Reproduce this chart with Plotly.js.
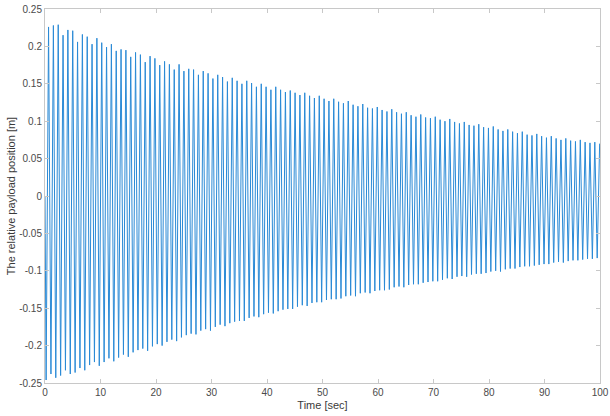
<!DOCTYPE html>
<html>
<head>
<meta charset="utf-8">
<script src="https://cdn.plot.ly/plotly-3.0.1.min.js"></script>
<style>html,body{margin:0;padding:0;background:#fff;}#chart{width:610px;height:416px;}</style>
</head>
<body>
<div id="chart"></div>
<script>
// Values: successive maxima and minima of the oscillation (m)
const startTime = 0.0;
const startValue = 0.0;
const firstTroughTime = 0.20;   // s
const firstPeakTime = 0.64;     // s
const cyclePeriod = 0.871;      // s, spacing between successive peaks

const peakValues = [
  0.226, 0.228, 0.229, 0.215, 0.222, 0.221, 0.206, 0.216, 0.213, 0.203,
  0.211, 0.205, 0.199, 0.203, 0.194, 0.196, 0.195, 0.186, 0.192, 0.189,
  0.179, 0.187, 0.184, 0.175, 0.180, 0.176, 0.169, 0.176, 0.167, 0.170,
  0.169, 0.162, 0.167, 0.164, 0.157, 0.162, 0.159, 0.153, 0.158, 0.154,
  0.150, 0.154, 0.151, 0.146, 0.150, 0.146, 0.142, 0.146, 0.142, 0.139,
  0.141, 0.138, 0.135, 0.138, 0.134, 0.131, 0.134, 0.130, 0.127, 0.130,
  0.126, 0.124, 0.127, 0.122, 0.120, 0.123, 0.118, 0.117, 0.119, 0.115,
  0.113, 0.116, 0.112, 0.110, 0.112, 0.108, 0.106, 0.109, 0.105, 0.104,
  0.106, 0.102, 0.100, 0.103, 0.099, 0.097, 0.099, 0.095, 0.094, 0.096,
  0.092, 0.091, 0.093, 0.089, 0.087, 0.089, 0.086, 0.084, 0.086, 0.082,
  0.081, 0.083, 0.080, 0.078, 0.080, 0.077, 0.075, 0.077, 0.074, 0.073,
  0.075, 0.072, 0.071, 0.072, 0.070
];

const troughValues = [
  -0.246, -0.238, -0.243, -0.240, -0.233, -0.238, -0.236, -0.230, -0.233, -0.226,
  -0.222, -0.227, -0.222, -0.217, -0.221, -0.216, -0.212, -0.215, -0.209, -0.206,
  -0.204, -0.207, -0.201, -0.198, -0.200, -0.195, -0.192, -0.194, -0.189, -0.186,
  -0.184, -0.185, -0.180, -0.178, -0.180, -0.175, -0.172, -0.174, -0.170, -0.168,
  -0.167, -0.167, -0.163, -0.161, -0.162, -0.158, -0.156, -0.157, -0.154, -0.152,
  -0.151, -0.151, -0.148, -0.146, -0.147, -0.143, -0.142, -0.142, -0.139, -0.138,
  -0.138, -0.137, -0.134, -0.133, -0.134, -0.130, -0.129, -0.130, -0.127, -0.126,
  -0.126, -0.125, -0.122, -0.121, -0.122, -0.119, -0.118, -0.118, -0.116, -0.115,
  -0.114, -0.114, -0.112, -0.110, -0.111, -0.108, -0.107, -0.108, -0.105, -0.104,
  -0.104, -0.103, -0.101, -0.100, -0.101, -0.098, -0.097, -0.097, -0.095, -0.094,
  -0.094, -0.093, -0.092, -0.091, -0.091, -0.089, -0.088, -0.089, -0.087, -0.086,
  -0.086, -0.085, -0.084, -0.084, -0.083
];

const xTickVals = [0, 10, 20, 30, 40, 50, 60, 70, 80, 90, 100];
const xTickText = ['0', '10', '20', '30', '40', '50', '60', '70', '80', '90', '100'];
const yTickVals = [0.25, 0.2, 0.15, 0.1, 0.05, 0, -0.05, -0.1, -0.15, -0.2, -0.25];
const yTickText = ['0.25', '0.2', '0.15', '0.1', '0.05', '0', '-0.05', '-0.1', '-0.15', '-0.2', '-0.25'];

// Assemble the turning points in time order
const xs = [startTime];
const ys = [startValue];
for (let k = 0; k < peakValues.length; k++) {
  xs.push(firstTroughTime + k * cyclePeriod); ys.push(troughValues[k]);
  xs.push(firstPeakTime + k * cyclePeriod); ys.push(peakValues[k]);
}

const trace = {
  x: xs, y: ys, type: 'scatter', mode: 'lines',
  line: {color: '#2a8ad6', width: 1},
  hoverinfo: 'none'
};

const axisCommon = {
  showline: true, mirror: 'ticks', linecolor: '#c8c8c8', linewidth: 1,
  ticks: 'inside', ticklen: 4, tickcolor: '#c8c8c8', tickwidth: 1,
  showgrid: false, zeroline: false,
  tickfont: {family: 'Liberation Sans, Arial, sans-serif', size: 10, color: '#4a4a4a'}
};

const layout = {
  width: 610, height: 416,
  margin: {l: 45, r: 10, t: 9, b: 33},
  paper_bgcolor: '#ffffff', plot_bgcolor: '#ffffff',
  showlegend: false,
  xaxis: Object.assign({}, axisCommon, {
    range: [0, 100], tickmode: 'array', tickvals: xTickVals, ticktext: xTickText,
    title: {text: 'Time [sec]', standoff: 4,
      font: {family: 'Liberation Sans, Arial, sans-serif', size: 11, color: '#3a3a3a'}}
  }),
  yaxis: Object.assign({}, axisCommon, {
    range: [-0.25, 0.25], tickmode: 'array', tickvals: yTickVals, ticktext: yTickText,
    title: {text: 'The relative payload position [m]', standoff: 1,
      font: {family: 'Liberation Sans, Arial, sans-serif', size: 11, color: '#3a3a3a'}}
  })
};

Plotly.newPlot('chart', [trace], layout, {staticPlot: true, displayModeBar: false});
</script>
</body>
</html>
